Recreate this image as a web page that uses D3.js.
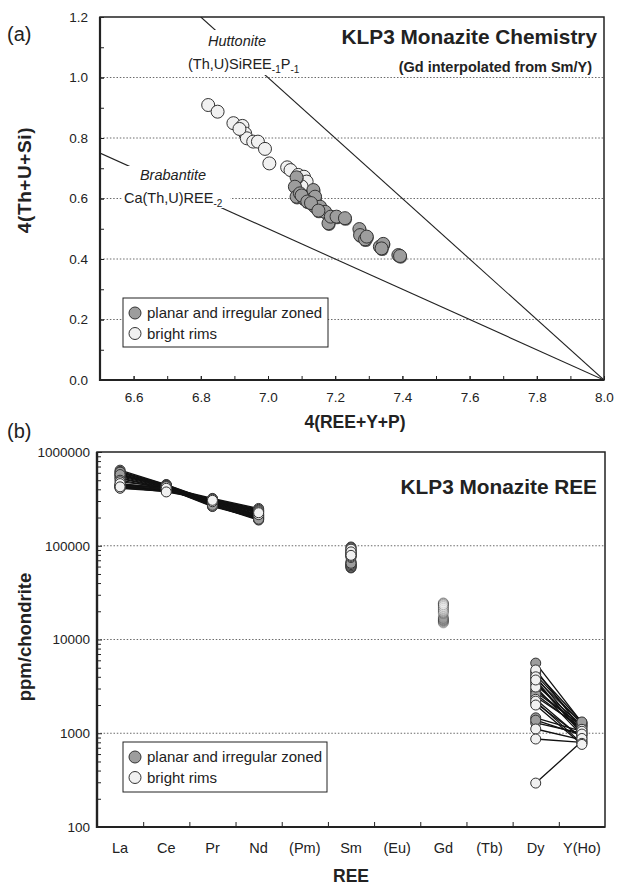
<!DOCTYPE html>
<html><head><meta charset="utf-8">
<script src="https://cdn.jsdelivr.net/npm/d3@7"></script>
<style>
body{margin:0;background:#fff;}
svg text{font-family:"Liberation Sans",Arial,Helvetica,sans-serif;fill:#222;}
</style></head>
<body><svg id="c" width="617" height="885"></svg>
<script>
// ---------- Panel (a) data ----------
const zonedX = [7.085,7.080,7.085,7.095,7.107,7.123,7.135,7.140,7.138,7.155,7.170,7.180,7.187,7.204,7.229,7.272,7.274,7.289,7.294,7.333,7.343,7.338,7.388,7.393,7.100,7.117,7.128,7.150];
const zonedY = [0.670,0.639,0.606,0.617,0.600,0.598,0.628,0.606,0.575,0.573,0.556,0.518,0.540,0.540,0.535,0.499,0.479,0.465,0.474,0.441,0.450,0.435,0.413,0.410,0.610,0.590,0.585,0.560];
const rimX = [6.822,6.850,6.897,6.924,6.932,6.937,6.956,6.970,6.991,7.004,7.057,7.067,7.090,7.107,7.115,6.915,7.100];
const rimY = [0.909,0.887,0.849,0.840,0.815,0.799,0.788,0.788,0.764,0.716,0.703,0.694,0.678,0.672,0.656,0.830,0.640];
// substitution vectors (end-member lines), data units
const huttonite = [[6.8,1.2],[8.0,0.0]];
const brabantite = [[6.5,0.75],[8.0,0.0]];
const xTicksA = [6.6,6.8,7.0,7.2,7.4,7.6,7.8,8.0];
const yTicksA = [0.0,0.2,0.4,0.6,0.8,1.0,1.2];

// ---------- Panel (b) data ----------
const ree = ["La","Ce","Pr","Nd","(Pm)","Sm","(Eu)","Gd","(Tb)","Dy","Y(Ho)"];
const yTicksB = [100,1000,10000,100000,1000000];
const zLa = [640000,620000,600000,585000,570000,560000,545000,530000,520000,610000,575000,500000];
const zCe = [450000,445000,440000,435000,430000,425000,420000,415000,410000,440000,430000,405000];
const zPr = [300000,295000,290000,285000,280000,275000,270000,265000,262000,290000,280000,270000];
const zNd = [215000,210000,205000,200000,195000,190000,188000,200000,195000,210000,205000,192000];
const zSm = [58000,60000,62000,64000,66000,68000,59000,61000,63000,97000,95000,65000];
const zGd = [15000,15500,16000,16500,17000,17500,15200,15800,16200,24500,24000,16800];
const zDy = [5600,4200,2750,2450,1460,1290,3800,3300,2900,4500,2600,1380];
const zY  = [1300,1250,1200,1150,1050,1000,1280,1220,1180,1320,1100,950];
const rLa = [450000,440000,430000,425000,420000,415000,410000,445000,435000,480000,460000,425000];
const rCe = [420000,410000,400000,395000,390000,385000,380000,415000,400000,425000,410000,375000];
const rPr = [320000,315000,310000,305000,300000,310000,305000,315000,300000,295000,310000,305000];
const rNd = [250000,245000,240000,235000,230000,225000,220000,240000,235000,215000,230000,225000];
const rSm = [75000,78000,80000,82000,85000,88000,90000,92000,77000,83000,86000,79000];
const rGd = [19000,20000,21000,22000,23000,24000,24500,19500,20500,21500,22500,23500];
const rDy = [4730,3520,3110,2100,1110,868,294,4000,3700,2300,2200,2000];
const rY  = [1100,1000,950,900,850,800,820,1050,980,880,780,760];

const legendLabels = ["planar and irregular zoned","bright rims"];
const fills = {zoned:"#9d9d9d", rim:"#f1f1f1"};

const svg = d3.select("#c");
const ink = "#222";

// ================= Panel (a) =================
const xA = d3.scaleLinear().domain([6.5,8.0]).range([100,604]);
const yA = d3.scaleLinear().domain([0,1.2]).range([380,17]);
const gA = svg.append("g");
gA.append("defs").append("clipPath").attr("id","clipA").append("rect")
  .attr("x",xA(6.5)).attr("y",yA(1.2)).attr("width",xA(8)-xA(6.5)).attr("height",yA(0)-yA(1.2));

gA.selectAll("line.grid").data([0.2,0.4,0.6,0.8,1.0]).join("line")
  .attr("x1",xA(6.5)).attr("x2",xA(8)).attr("y1",d=>yA(d)).attr("y2",d=>yA(d))
  .attr("stroke","#444").attr("stroke-width",0.8).attr("stroke-dasharray","1.5,1.8");

const lineA = d3.line().x(d=>xA(d[0])).y(d=>yA(d[1]));
[huttonite,brabantite].forEach(l=>{
  gA.append("path").attr("d",lineA(l)).attr("clip-path","url(#clipA)")
    .attr("fill","none").attr("stroke",ink).attr("stroke-width",1.1);
});
gA.append("rect").attr("x",186).attr("y",30).attr("width",112).attr("height",45).attr("fill","#fff");
gA.append("rect").attr("x",122).attr("y",166).attr("width",108).attr("height",42).attr("fill","#fff");

gA.append("text").attr("x",237).attr("y",46).attr("text-anchor","middle")
  .attr("font-size",14.5).attr("font-style","italic").text("Huttonite");
const tH = gA.append("text").attr("x",188).attr("y",69).attr("font-size",14.5);
tH.append("tspan").text("(Th,U)SiREE");
tH.append("tspan").attr("font-size",10).attr("dy",4).text("-1");
tH.append("tspan").attr("dy",-4).text("P");
tH.append("tspan").attr("font-size",10).attr("dy",4).text("-1");

gA.append("text").attr("x",173).attr("y",180).attr("text-anchor","middle")
  .attr("font-size",14.5).attr("font-style","italic").text("Brabantite");
const tB = gA.append("text").attr("x",124).attr("y",203).attr("font-size",14.5);
tB.append("tspan").text("Ca(Th,U)REE");
tB.append("tspan").attr("font-size",10).attr("dy",4).text("-2");

const rimPts = rimX.map((x,i)=>({x,y:rimY[i]}));
const zonPts = zonedX.map((x,i)=>({x,y:zonedY[i]}));
gA.selectAll("circle.rim").data(rimPts).join("circle")
  .attr("cx",d=>xA(d.x)).attr("cy",d=>yA(d.y)).attr("r",6.5)
  .attr("fill",fills.rim).attr("stroke","#333").attr("stroke-width",1);
gA.selectAll("circle.zs").data(zonPts).join("circle")
  .attr("cx",d=>xA(d.x)+0.6).attr("cy",d=>yA(d.y)+1.2).attr("r",6.5)
  .attr("fill","#555");
gA.selectAll("circle.zon").data(zonPts).join("circle")
  .attr("cx",d=>xA(d.x)).attr("cy",d=>yA(d.y)).attr("r",6.5)
  .attr("fill",fills.zoned).attr("stroke","#333").attr("stroke-width",1);

const axL = gA.append("g").attr("transform",`translate(${xA(6.5)},0)`)
  .call(d3.axisLeft(yA).tickValues(yTicksA).tickFormat(d3.format(".1f")).tickSizeInner(-4).tickSizeOuter(0).tickPadding(12));
const axLm = gA.append("g").attr("transform",`translate(${xA(6.5)},0)`)
  .call(d3.axisLeft(yA).tickValues(d3.range(1,12).map(d=>d/10)).tickFormat("").tickSizeInner(-4).tickSizeOuter(0));
const axB = gA.append("g").attr("transform",`translate(0,${yA(0)})`)
  .call(d3.axisBottom(xA).tickValues(xTicksA).tickFormat(d3.format(".1f")).tickSizeInner(-4).tickSizeOuter(0).tickPadding(12));
const axBm = gA.append("g").attr("transform",`translate(0,${yA(0)})`)
  .call(d3.axisBottom(xA).tickValues(d3.range(66,80).map(d=>d/10)).tickFormat("").tickSizeInner(-4).tickSizeOuter(0));
[axL,axLm,axB,axBm].forEach(a=>{
  a.select(".domain").remove();
  a.selectAll("line").attr("stroke",ink).attr("stroke-width",1);
  a.selectAll("text").attr("font-size",13.5).attr("fill","#222")
    .style("font-family",'"Liberation Sans",Arial,sans-serif');
});
gA.append("rect").attr("x",xA(6.5)).attr("y",yA(1.2)).attr("width",xA(8)-xA(6.5)).attr("height",yA(0)-yA(1.2))
  .attr("fill","none").attr("stroke",ink).attr("stroke-width",1.5);
gA.append("line").attr("x1",xA(6.5)).attr("x2",xA(6.5)).attr("y1",yA(1.2)).attr("y2",yA(0)+1)
  .attr("stroke",ink).attr("stroke-width",2.2);
gA.append("line").attr("x1",xA(6.5)).attr("x2",xA(8)).attr("y1",yA(0)).attr("y2",yA(0))
  .attr("stroke",ink).attr("stroke-width",2);

gA.append("text").attr("x",597).attr("y",44).attr("text-anchor","end").attr("font-size",20.8).attr("font-weight","bold").text("KLP3 Monazite Chemistry");
gA.append("text").attr("x",592).attr("y",72).attr("text-anchor","end").attr("font-size",14.5).attr("font-weight","bold").text("(Gd interpolated from Sm/Y)");
gA.append("text").attr("x",355).attr("y",428).attr("text-anchor","middle").attr("font-size",17.5).attr("font-weight","bold").text("4(REE+Y+P)");
gA.append("text").attr("transform","translate(31,180) rotate(-90)").attr("text-anchor","middle").attr("font-size",19).attr("letter-spacing",0.6).attr("font-weight","bold").text("4(Th+U+Si)");
gA.append("text").attr("x",7).attr("y",41).attr("font-size",20).text("(a)");

function legend(g,x,y,w,h){
  g.append("rect").attr("x",x).attr("y",y).attr("width",w).attr("height",h).attr("fill","#fff").attr("stroke",ink).attr("stroke-width",1);
  [fills.zoned,fills.rim].forEach((f,i)=>{
    g.append("circle").attr("cx",x+12).attr("cy",y+15+i*20.5).attr("r",6).attr("fill",f).attr("stroke","#333");
    g.append("text").attr("x",x+24).attr("y",y+20+i*20.5).attr("font-size",15).text(legendLabels[i]);
  });
}
legend(gA,123,298,205,49);

// ================= Panel (b) =================
const xB = d3.scaleBand().domain(ree).range([97,605]);
const xBb = d3.scaleLinear().domain([0,ree.length]).range([97,605]);
const yB = d3.scaleLog().domain([100,1000000]).range([827,452]);
const gB = svg.append("g");

gB.selectAll("line.grid").data([1000,10000,100000]).join("line")
  .attr("x1",97).attr("x2",605).attr("y1",d=>yB(d)).attr("y2",d=>yB(d))
  .attr("stroke","#444").attr("stroke-width",0.8).attr("stroke-dasharray","1.5,1.8");

function buildSeries(La,Ce,Pr,Nd,Sm,Gd,Dy,Y,grp){
  return La.map((_,i)=>({grp, vals:[La[i],Ce[i],Pr[i],Nd[i],null,Sm[i],null,Gd[i],null,Dy[i],Y[i]]}));
}
const series = buildSeries(zLa,zCe,zPr,zNd,zSm,zGd,zDy,zY,"zoned")
  .concat(buildSeries(rLa,rCe,rPr,rNd,rSm,rGd,rDy,rY,"rim"));
const cx = c=>xB(c)+xB.bandwidth()/2;
const lineB = d3.line().defined(d=>d.v!=null).x(d=>cx(d.c)).y(d=>yB(d.v));
series.forEach(s=>{
  const pts = ree.map((c,i)=>({c,v:s.vals[i]}));
  gB.append("path").attr("d",lineB(pts)).attr("fill","none").attr("stroke","#111").attr("stroke-width",1.3);
});
["zoned","rim"].forEach(grp=>{
  series.filter(s=>s.grp===grp).forEach(s=>{
    ree.forEach((c,i)=>{
      if(s.vals[i]==null) return;
      gB.append("circle").attr("cx",cx(c)).attr("cy",yB(s.vals[i])).attr("r",5)
        .attr("fill",fills[grp]).attr("stroke","#333").attr("stroke-width",1)
        .attr("opacity",c==="Gd"?0.3:1);
    });
  });
});

const minorB = [];
[100,1000,10000,100000].forEach(b=>{for(let k=2;k<=9;k++) minorB.push(b*k);});
const bL = gB.append("g").attr("transform","translate(97,0)")
  .call(d3.axisLeft(yB).tickValues(yTicksB).tickFormat(d3.format("d")).tickSizeInner(-5).tickSizeOuter(0).tickPadding(7));
const bLm = gB.append("g").attr("transform","translate(97,0)")
  .call(d3.axisLeft(yB).tickValues(minorB).tickFormat("").tickSizeInner(-4).tickSizeOuter(0));
const bB = gB.append("g").attr("transform","translate(0,827)")
  .call(d3.axisBottom(xB).tickSize(0).tickPadding(16));
const bBt = gB.append("g").attr("transform","translate(0,827)")
  .call(d3.axisBottom(xBb).tickValues(d3.range(1,ree.length)).tickFormat("").tickSizeInner(-5).tickSizeOuter(0));
[bL,bLm,bB,bBt].forEach(a=>{
  a.select(".domain").remove();
  a.selectAll("line").attr("stroke",ink).attr("stroke-width",1);
  a.selectAll("text").attr("font-size",13.5).attr("fill","#222")
    .style("font-family",'"Liberation Sans",Arial,sans-serif');
});
bB.selectAll("text").attr("font-size",14.5);
gB.append("rect").attr("x",97).attr("y",452).attr("width",508).attr("height",375)
  .attr("fill","none").attr("stroke",ink).attr("stroke-width",1.5);
gB.append("line").attr("x1",97).attr("x2",97).attr("y1",452).attr("y2",828).attr("stroke",ink).attr("stroke-width",2.4);
gB.append("line").attr("x1",97).attr("x2",605).attr("y1",827).attr("y2",827).attr("stroke",ink).attr("stroke-width",2);

legend(gB,123,742,204,50);
gB.append("text").attr("x",597).attr("y",494).attr("text-anchor","end").attr("font-size",20.8).attr("font-weight","bold").text("KLP3 Monazite REE");
gB.append("text").attr("x",351).attr("y",882).attr("text-anchor","middle").attr("font-size",17.5).attr("font-weight","bold").text("REE");
gB.append("text").attr("transform","translate(31,637) rotate(-90)").attr("text-anchor","middle").attr("font-size",18.5).attr("font-weight","bold").text("ppm/chondrite");
gB.append("text").attr("x",7).attr("y",438).attr("font-size",20).text("(b)");
</script></body></html>
